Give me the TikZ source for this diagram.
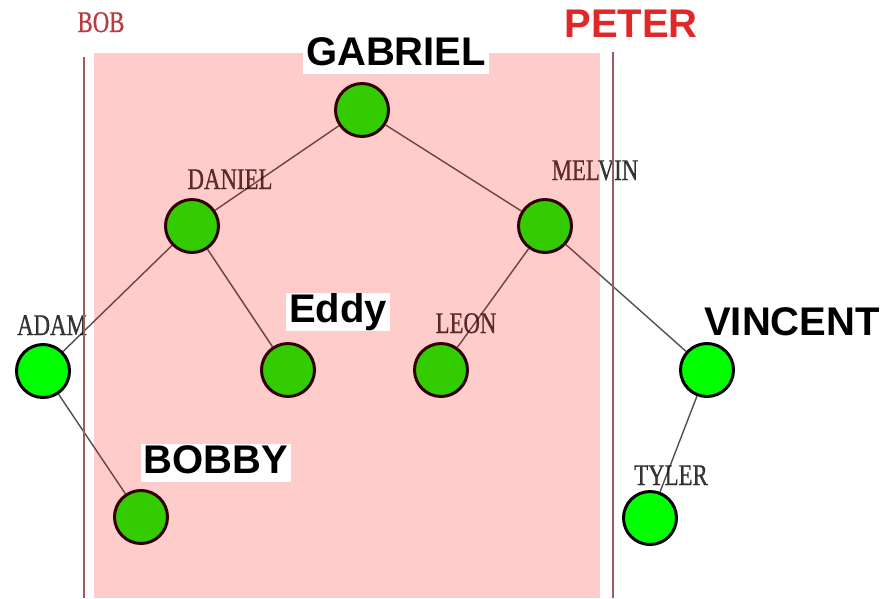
\documentclass[tikz,border=0pt]{standalone}
\usepackage{fontspec}
\setmainfont{Liberation Sans}
\newfontfamily\namefont[FakeStretch=0.76,FakeBold=0.6]{Liberation Serif}
\begin{document}
\begin{tikzpicture}[x=1pt,y=-1pt,
  treenode/.style={circle,draw=black,line width=3pt,fill=leafgreen,minimum size=53pt,inner sep=0pt},
  branch/.style={draw=edgegray,line width=1.4pt},
  divider/.style={draw=divred,line width=1.6pt},
  smallname/.style={anchor=base,inner sep=0pt,font=\namefont\fontsize{30}{30}\selectfont,text=black,text opacity=0.78},
  bigname/.style={anchor=base,fill=white,inner xsep=3pt,inner ysep=0pt,text height=29pt,text depth=9pt,font=\bfseries\fontsize{40}{40}\selectfont}]
\definecolor{leafgreen}{HTML}{00FF00}
\definecolor{edgegray}{HTML}{505050}
\definecolor{divred}{HTML}{A05A62}
\definecolor{bobred}{HTML}{B83C44}
\definecolor{peterred}{HTML}{E02828}
\useasboundingbox (0,0) rectangle (880,598);
\fill[white] (0,0) rectangle (880,598);

% tree nodes
\node[treenode] (gabriel) at (362,110) {};
\node[treenode] (daniel)  at (192,226) {};
\node[treenode] (melvin)  at (545,226) {};
\node[treenode] (adam)    at (43,371) {};
\node[treenode] (eddy)    at (288,370) {};
\node[treenode] (leon)    at (441,370) {};
\node[treenode] (vincent) at (707,370) {};
\node[treenode] (bobby)   at (141,517) {};
\node[treenode] (tyler)   at (650,518) {};

% branches
\draw[branch] (gabriel) -- (daniel);
\draw[branch] (gabriel) -- (melvin);
\draw[branch] (daniel) -- (adam);
\draw[branch] (daniel) -- (eddy);
\draw[branch] (melvin) -- (leon);
\draw[branch] (melvin) -- (vincent);
\draw[branch] (adam) -- (bobby);
\draw[branch] (vincent) -- (tyler);

% small serif names
\node[smallname,text=bobred,text opacity=1] (lbob) at (101,32) {BOB};
\node[smallname] (ldaniel) at (230,189) {DANIEL};
\node[smallname] (lmelvin) at (595,180) {MELVIN};
\node[smallname] (ladam)   at (52,335)  {ADAM};
\node[smallname] (lleon)   at (466,333) {LEON};
\node[smallname] (ltyler)  at (671,485) {TYLER};

% dividers
\coordinate (ltop) at (84,57);
\coordinate (lbot) at (84,598);
\coordinate (rtop) at (613,52);
\coordinate (rbot) at (613,598);
\draw[divider] (ltop) -- (lbot);
\draw[divider] (rtop) -- (rbot);

% translucent band
\fill[red,fill opacity=0.2] (94,53) rectangle (600,598);

% bold names
\node[bigname] (lgabriel) at (396,65)  {GABRIEL};
\node[bigname] (leddy)    at (338,322) {Eddy};
\node[bigname] (lbobby)   at (216,473) {BOBBY};
\node[bigname,fill=none] (lvincent) at (792,335) {VINCENT};
\node[anchor=base,inner sep=0pt,text=peterred,font=\bfseries\fontsize{40}{40}\selectfont] (lpeter) at (631,37) {PETER};
\end{tikzpicture}
\end{document}
